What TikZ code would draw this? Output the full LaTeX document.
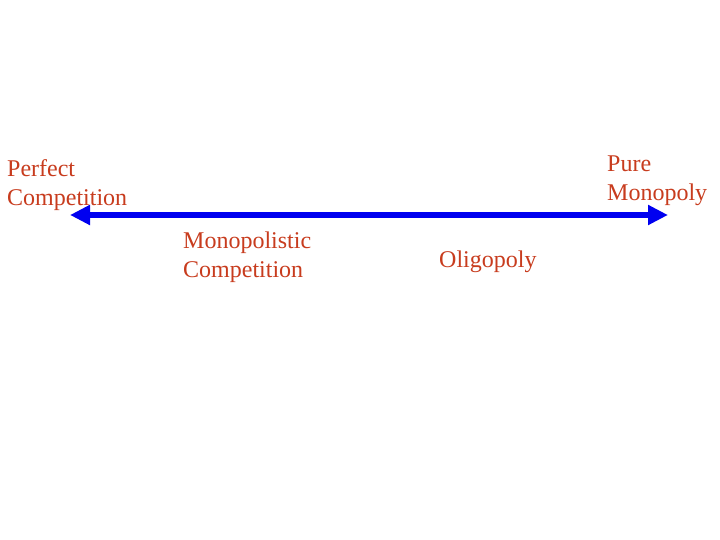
\documentclass[tikz,border=0pt]{standalone}
\usepackage{fontspec}
\setmainfont{Liberation Serif}
\usetikzlibrary{arrows.meta, positioning}
\definecolor{rustred}{HTML}{C83C1E}
\definecolor{spblue}{HTML}{0000F0}

\begin{document}
\begin{tikzpicture}[
  x=1pt, y=-1pt,
  spectrum/.style={spblue, line width=6pt,
                   {Triangle[length=20pt, width=19pt]}-{Triangle[length=20pt, width=19pt]}},
  marketlabel/.style={anchor=base west, inner sep=0pt, align=left, text=rustred,
                      font=\fontsize{24}{29}\selectfont},
]

% Background
\fill[white] (0,0) rectangle (720,540);
\useasboundingbox (0,0) rectangle (720,540);

% ============ Spectrum axis ============
\coordinate (leftend) at (70,215);
\coordinate (rightend) at (668,215);
\draw[spectrum] (leftend) -- (rightend);

% Market structures (base = last line)
\node[marketlabel] (perfect) at (7,206) {Perfect\\Competition};
\node[marketlabel] (monopoly) at (607,201) {Pure\\Monopoly};
\node[marketlabel] (monopolistic) at (183,277) {Monopolistic\\Competition};
\node[marketlabel] (oligopoly) at (439,267) {Oligopoly};

\end{tikzpicture}
\end{document}
